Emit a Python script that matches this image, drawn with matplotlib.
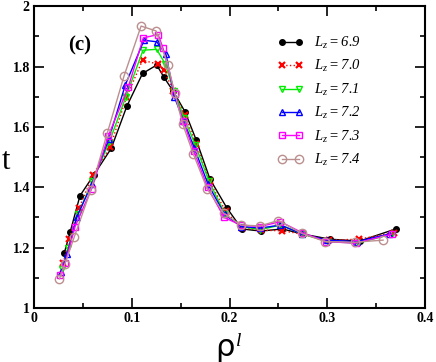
#!/usr/bin/env python3
# -*- coding: utf-8 -*-
"""t vs rho^l for several L_z (panel c)"""

import matplotlib
matplotlib.use("Agg")
import matplotlib.pyplot as plt
from matplotlib.ticker import MultipleLocator

# --- data ---
LZ = ["6.9", "7.0", "7.1", "7.2", "7.3", "7.4"]

x_69 = [0.031, 0.037, 0.047, 0.061, 0.079, 0.095, 0.111, 0.1255, 0.133, 0.142, 0.1545,
        0.166, 0.180, 0.197, 0.2125, 0.232, 0.254, 0.275, 0.303, 0.333, 0.370]
t_69 = [1.183, 1.252, 1.372, 1.44, 1.529, 1.669, 1.777, 1.805, 1.764, 1.72, 1.650,
        1.556, 1.427, 1.333, 1.262, 1.255, 1.262, 1.245, 1.228, 1.222, 1.262]

x_70 = [0.030, 0.036, 0.046, 0.060, 0.078, 0.0945, 0.111, 0.1265, 0.1325, 0.1425, 0.154,
        0.1655, 0.1795, 0.196, 0.2125, 0.232, 0.2535, 0.275, 0.302, 0.332, 0.368]
t_70 = [1.15, 1.23, 1.33, 1.44, 1.534, 1.698, 1.821, 1.808, 1.79, 1.72, 1.64,
        1.545, 1.42, 1.32, 1.265, 1.258, 1.256, 1.245, 1.225, 1.228, 1.25]

x_71 = [0.029, 0.035, 0.045, 0.0595, 0.077, 0.094, 0.1115, 0.1255, 0.134, 0.143, 0.1535,
        0.165, 0.179, 0.1955, 0.212, 0.2315, 0.2525, 0.2745, 0.301, 0.331, 0.366]
t_71 = [1.13, 1.20, 1.31, 1.42, 1.55, 1.70, 1.854, 1.857, 1.81, 1.72, 1.63,
        1.54, 1.42, 1.31, 1.27, 1.26, 1.275, 1.245, 1.22, 1.215, 1.245]

x_72 = [0.028, 0.034, 0.0435, 0.059, 0.0765, 0.0935, 0.1125, 0.1255, 0.135, 0.1435, 0.153,
        0.164, 0.178, 0.195, 0.212, 0.2315, 0.252, 0.2745, 0.300, 0.330, 0.363]
t_72 = [1.12, 1.18, 1.30, 1.41, 1.56, 1.74, 1.887, 1.882, 1.84, 1.70, 1.62,
        1.53, 1.41, 1.31, 1.27, 1.265, 1.275, 1.245, 1.225, 1.22, 1.245]

x_73 = [0.027, 0.0317, 0.042, 0.059, 0.076, 0.0965, 0.1118, 0.127, 0.132, 0.144, 0.1525,
        0.1635, 0.1775, 0.1945, 0.2115, 0.231, 0.252, 0.274, 0.299, 0.329, 0.366]
t_73 = [1.11, 1.148, 1.27, 1.396, 1.57, 1.733, 1.895, 1.906, 1.86, 1.71, 1.62,
        1.52, 1.40, 1.30, 1.275, 1.27, 1.286, 1.25, 1.22, 1.215, 1.245]

x_74 = [0.026, 0.0315, 0.041, 0.058, 0.075, 0.092, 0.1095, 0.1248, 0.137, 0.144, 0.152,
        0.163, 0.177, 0.194, 0.2115, 0.231, 0.25, 0.274, 0.298, 0.328, 0.357]
t_74 = [1.097, 1.145, 1.234, 1.39, 1.58, 1.768, 1.934, 1.918, 1.805, 1.711, 1.61,
        1.51, 1.396, 1.314, 1.275, 1.272, 1.29, 1.247, 1.22, 1.218, 1.225]

X_TICKS = [0, 0.1, 0.2, 0.3, 0.4]
X_TICKLABELS = ["0", "0.1", "0.2", "0.3", "0.4"]
Y_TICKS = [1, 1.2, 1.4, 1.6, 1.8, 2]
Y_TICKLABELS = ["1", "1.2", "1.4", "1.6", "1.8", "2"]

# --- style ---
plt.rcParams["font.family"] = ["Liberation Serif", "DejaVu Serif"]
plt.rcParams["mathtext.fontset"] = "custom"
plt.rcParams["mathtext.rm"] = "Liberation Serif:italic"
plt.rcParams["mathtext.it"] = "Liberation Serif:italic"

series = [
    (x_69, t_69, dict(color="black", ls="-", marker="o", ms=4, mfc="black")),
    (x_70, t_70, dict(color="red", ls=":", marker="x", ms=5, mew=1.6)),
    (x_71, t_71, dict(color="#00ee00", ls="-", marker="v", ms=5, mfc="none")),
    (x_72, t_72, dict(color="blue", ls="-", marker="^", ms=5, mfc="none")),
    (x_73, t_73, dict(color="magenta", ls="-", marker="s", ms=5, mfc="none")),
    (x_74, t_74, dict(color="#bc8f8f", ls="-", marker="o", ms=6, mfc="none")),
]

fig = plt.figure(figsize=(4.36, 3.62), dpi=100)
ax = fig.add_axes([0.078, 0.149, 0.897, 0.834])

for (xs, ts, kw), lz in zip(series, LZ):
    ax.plot(xs, ts, lw=1.0, label=rf"$L_z = {lz}$", **kw)

ax.set_xlim(0, 0.4)
ax.set_ylim(1, 2)
ax.set_xticks(X_TICKS)
ax.set_xticklabels(X_TICKLABELS, fontweight="bold", fontsize=10)
ax.set_yticks(Y_TICKS)
ax.set_yticklabels(Y_TICKLABELS, fontweight="bold", fontsize=10)
ax.xaxis.set_minor_locator(MultipleLocator(0.05))
ax.yaxis.set_minor_locator(MultipleLocator(0.1))
ax.tick_params(which="both", direction="in", top=True, right=True, width=1.2)
ax.tick_params(which="major", length=7, pad=3)
ax.tick_params(which="minor", length=3.5)
for sp in ax.spines.values():
    sp.set_linewidth(1.5)

# axis labels placed by hand, like the original figure
fig.text(0.014, 0.555, "t", fontsize=22, ha="center", va="center")
fig.text(0.516, 0.0, "ρ", fontsize=22, family="DejaVu Sans", ha="center", va="bottom")
fig.text(0.548, 0.033, "l", fontsize=14, style="italic", ha="center", va="bottom")

ax.text(0.047, 1.87, "(c)", fontsize=15, fontweight="bold", ha="center", va="center")

ax.legend(loc="upper right", bbox_to_anchor=(0.835, 0.905), frameon=False,
          numpoints=2, fontsize=10.5, handlelength=1.8, labelspacing=0.5,
          handletextpad=0.7, borderaxespad=0.0, borderpad=0.0)

fig.savefig("out.png", dpi=100)
